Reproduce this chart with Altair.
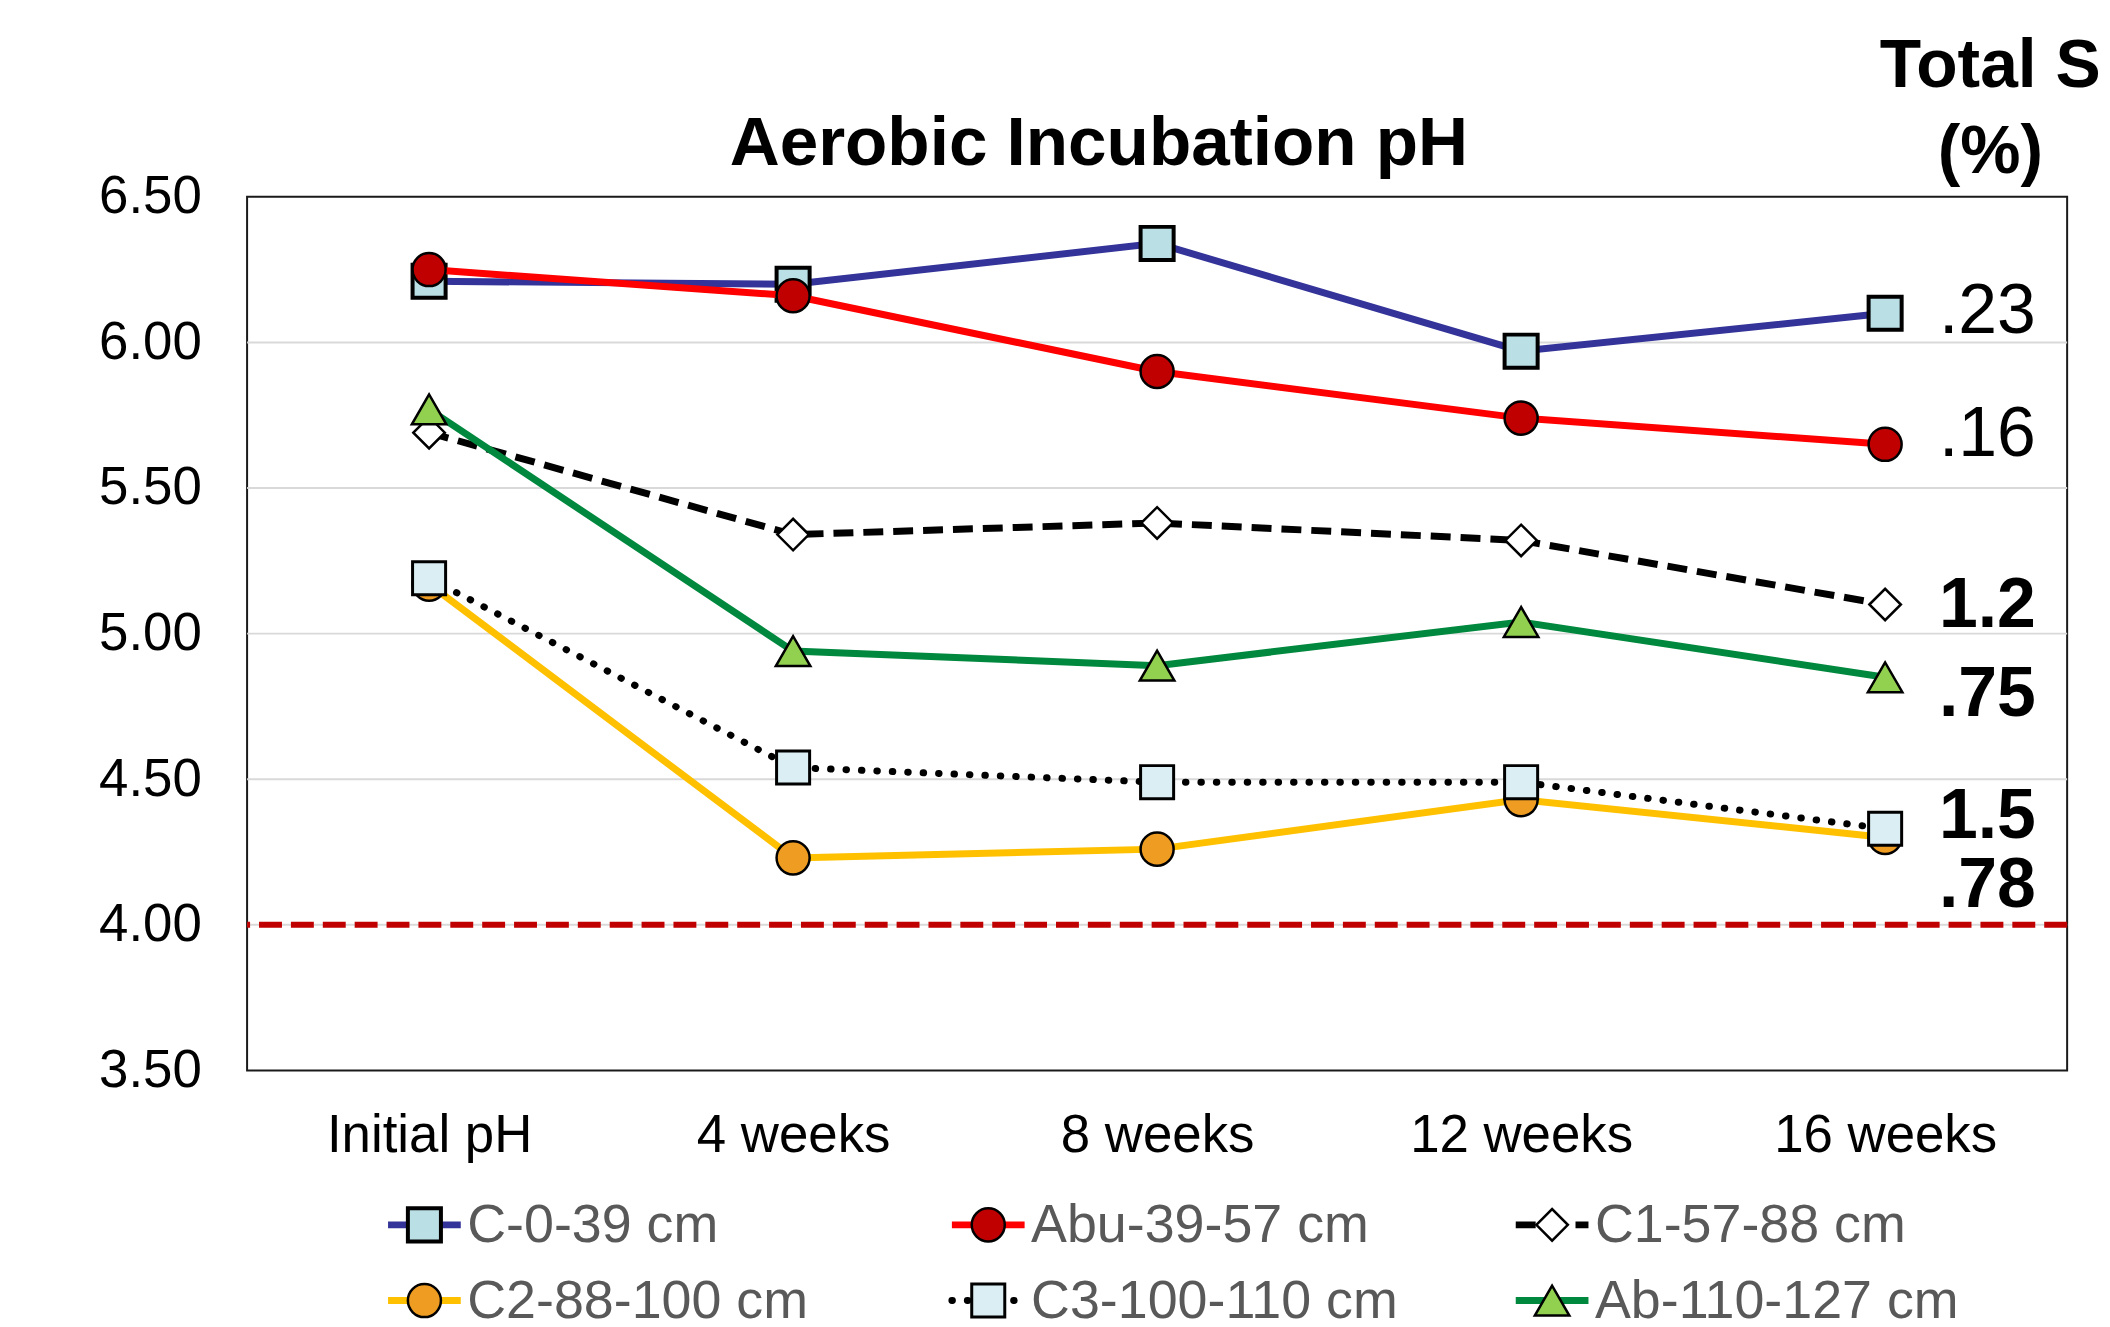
import altair as alt
import pandas as pd

# ---------------- data ----------------
categories = ["Initial pH", "4 weeks", "8 weeks", "12 weeks", "16 weeks"]
series_names = ["C-0-39 cm", "Abu-39-57 cm", "C1-57-88 cm",
                "C2-88-100 cm", "C3-100-110 cm", "Ab-110-127 cm"]
ph_c0 = [6.21, 6.20, 6.34, 5.97, 6.10]
ph_abu = [6.25, 6.16, 5.90, 5.74, 5.65]
ph_c1 = [5.69, 5.34, 5.38, 5.32, 5.10]
ph_c2 = [5.17, 4.23, 4.26, 4.43, 4.30]
ph_c3 = [5.19, 4.54, 4.49, 4.49, 4.33]
ph_ab = [5.77, 4.94, 4.89, 5.04, 4.85]
series_values = [ph_c0, ph_abu, ph_c1, ph_c2, ph_c3, ph_ab]

# Total S (%) for each series, in series order
total_s_labels = [".23", ".16", "1.2", ".78", "1.5", ".75"]
total_s_bold = [False, False, True, True, True, True]

threshold = [4.0]
grid_values = [4.0, 4.5, 5.0, 5.5, 6.0]
y_ticks = [3.5, 4.0, 4.5, 5.0, 5.5, 6.0, 6.5]

title_text = "Aerobic Incubation pH"
side_title = ["Total S", "(%)"]

# ---------------- styles ----------------
styles = [
    dict(line="#333399", dash=None, cap="butt", shape="square", fill="#BADFE4", sw=4, size=1100),
    dict(line="#FF0000", dash=None, cap="butt", shape="circle", fill="#C00000", sw=2.5, size=1100),
    dict(line="#000000", dash=[20, 10], cap="butt", shape="diamond", fill="#FFFFFF", sw=2.5, size=1000),
    dict(line="#FFC000", dash=None, cap="butt", shape="circle", fill="#EF9D22", sw=2.5, size=1100),
    dict(line="#000000", dash=[0.5, 15], cap="round", shape="square", fill="#DAEEF3", sw=3, size=1100),
    dict(line="#00883E", dash=None, cap="butt", shape="triangle-up", fill="#92D050", sw=2.5, size=1200),
]
label_dy = [20, 12, 23, 70, 9, 39]
FONT = "Liberation Sans"
LINE_W = 7

rows = []
for name, vals in zip(series_names, series_values):
    for i, (c, v) in enumerate(zip(categories, vals)):
        rows.append({"series": name, "time": c, "idx": i, "ph": v})
df = pd.DataFrame(rows)

x_enc = alt.X("time:N",
              scale=alt.Scale(type="point", domain=categories, padding=0.5),
              axis=alt.Axis(title=None, labelFontSize=53, labelColor="black",
                            labelPadding=39, ticks=False, tickSize=0,
                            domain=False, grid=False, labelAngle=0,
                            labelLimit=0, labelFont=FONT))
y_enc = alt.Y("ph:Q",
              scale=alt.Scale(domain=[3.5, 6.5], nice=False, zero=False),
              axis=alt.Axis(title=None, values=y_ticks, format=".2f",
                            labelFontSize=53, labelColor="black",
                            labelPadding=46, ticks=False, tickSize=0,
                            domain=False, grid=False, labelFlush=False,
                            labelOverlap=False, labelLimit=0, labelFont=FONT))

main_layers = []
main_layers.append(
    alt.Chart(pd.DataFrame({"ph": grid_values}))
    .mark_rule(color="#D9D9D9", strokeWidth=2)
    .encode(y=y_enc)
)
main_layers.append(
    alt.Chart(pd.DataFrame({"ph": threshold}))
    .mark_rule(color="#C00000", strokeWidth=6, strokeDash=[23, 9])
    .encode(y=y_enc)
)

for name, st in zip(series_names, styles):
    sub = df[df.series == name]
    line_kw = dict(color=st["line"], strokeWidth=LINE_W, strokeCap=st["cap"])
    if st["dash"]:
        line_kw["strokeDash"] = st["dash"]
    main_layers.append(
        alt.Chart(sub).mark_line(**line_kw)
        .encode(x=x_enc, y=y_enc, order=alt.Order("idx:Q"))
    )
    main_layers.append(
        alt.Chart(sub).mark_point(shape=st["shape"], filled=True, fill=st["fill"],
                                  stroke="black", strokeWidth=st["sw"],
                                  size=st["size"], opacity=1)
        .encode(x=x_enc, y=y_enc)
    )

for i, (lab, bold) in enumerate(zip(total_s_labels, total_s_bold)):
    d = pd.DataFrame({"time": [categories[-1]], "ph": [series_values[i][-1]],
                      "label": [lab]})
    main_layers.append(
        alt.Chart(d).mark_text(align="left", baseline="alphabetic", dx=54,
                               dy=label_dy[i], fontSize=70, font=FONT,
                               fontWeight="bold" if bold else "normal",
                               color="black")
        .encode(x=x_enc, y=y_enc, text="label:N")
    )

# annotations outside the plot area
main_layers.append(
    alt.Chart(pd.DataFrame({"t": [title_text]}))
    .mark_text(align="center", baseline="alphabetic", fontSize=69.5,
               fontWeight="bold", font=FONT, color="black")
    .encode(x=alt.value(855), y=alt.value(-32), text="t:N")
)
main_layers.append(
    alt.Chart(pd.DataFrame({"t": [side_title[0]]}))
    .mark_text(align="left", baseline="alphabetic", fontSize=68,
               fontWeight="bold", font=FONT, color="black")
    .encode(x=alt.value(1639), y=alt.value(-110), text="t:N")
)
main_layers.append(
    alt.Chart(pd.DataFrame({"t": [side_title[1]]}))
    .mark_text(align="center", baseline="alphabetic", fontSize=68,
               fontWeight="bold", font=FONT, color="black")
    .encode(x=alt.value(1750), y=alt.value(-24), text="t:N")
)

main = alt.layer(*main_layers)

# ---------------- legend ----------------
leg = pd.DataFrame({"series": series_names,
                    "col": [i % 3 for i in range(len(series_names))],
                    "row": [i // 3 for i in range(len(series_names))]})
lx = alt.X("col:Q", scale=alt.Scale(domain=[0, 2], range=[178, 1310], nice=False, zero=False), axis=None)
ly = alt.Y("row:Q", scale=alt.Scale(domain=[0, 1], range=[1032, 1108], nice=False, zero=False), axis=None)

legend_layers = []
for name, st in zip(series_names, styles):
    sub = leg[leg.series == name]
    kw = dict(shape="stroke", filled=False, size=73 * 73, strokeWidth=LINE_W,
              stroke=st["line"], strokeCap=st["cap"], opacity=1)
    if st["dash"]:
        kw["strokeDash"] = st["dash"]
    legend_layers.append(alt.Chart(sub).mark_point(**kw).encode(x=lx, y=ly))
    legend_layers.append(
        alt.Chart(sub).mark_point(shape=st["shape"], filled=True, fill=st["fill"],
                                  stroke="black", strokeWidth=st["sw"],
                                  size=st["size"], opacity=1)
        .encode(x=lx, y=ly)
    )
    legend_layers.append(
        alt.Chart(sub).mark_text(align="left", baseline="middle", dx=43, dy=1,
                                 fontSize=54, font=FONT, color="#595959")
        .encode(x=lx, y=ly, text="series:N")
    )
legend = alt.layer(*legend_layers)

chart = (
    alt.layer(main, legend)
    .resolve_scale(x="independent", y="independent")
    .properties(width=1827, height=877,
                autosize=alt.AutoSizeParams(type="none"),
                padding={"left": 240, "top": 187, "right": 35, "bottom": 253})
    .configure(font=FONT)
    .configure_view(stroke="#1a1a1a", strokeWidth=2)
)

chart.save("out.html", embed_options={"renderer": "svg", "actions": False})
